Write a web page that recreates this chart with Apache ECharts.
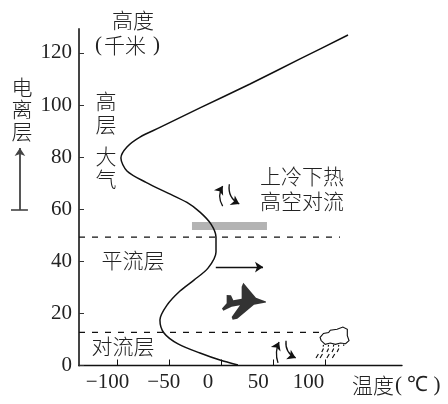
<!DOCTYPE html>
<html>
<head>
<meta charset="utf-8">
<style>
  html, body { margin: 0; padding: 0; background: #fff; }
  #chart { width: 448px; height: 404px; }
</style>
<script src="https://cdn.jsdelivr.net/npm/echarts@6/dist/echarts.min.js"></script>
</head>
<body>
<div id="chart"></div>
<script>
// temperature (x) / height (y) profile
const curveTemp = [122.1, 76, 27.9, -20.2, -58.7, -77.9, -90.4, -96.2, -90.4, -72.1, -51, -32.7, -20.2, -9.6, -4.8, -4.8, -12.5, -26, -39.4, -51.9, -58.7, -54.8, -41.3, -20.2, -1, 16.3];
const curveHeight = [126.9, 117.7, 108.1, 98.9, 91.4, 87.7, 83.9, 79.7, 74.7, 70.3, 66.2, 62.6, 58.9, 54.3, 49.3, 43.6, 37.4, 32.8, 28.6, 23.2, 17.5, 12.5, 8.3, 4.8, 2.1, 0.2];

const heightTicks = [0, 20, 40, 60, 80, 100, 120];
const tempTicks = [-100, -50, 0, 50, 100];

const stratopause = [[-136.5, 49.3], [114.4, 49.3]];
const tropopause = [[-136.5, 12.7], [95.2, 12.7]];
const ozoneBand = [[-27.9, 55.1], [44.2, 52]];

const planePos = [22.1, 24.7];
const cloudPos = [107.2, 8.8];

const PLANE = 'path://M198 95L168 84L152 65L130 38L125 50L125 87L100 91L93 76L80 75L80 100L66 116L70 123L95 111L120 106L95 142L98 150L112 147L162 105L198 98Z';
const CLOUD = 'path://M48 60L45 50L55 38L70 35L75 28L95 25L112 18L125 25L125 45L130 60L120 70L105 68L90 72L75 68L60 72ZM55 74L54 79M70 74L69 79M85 74L84 79M100 74L99 79M115 72L114 77M55 85L50 96M70 85L65 96M85 85L80 96M100 85L95 96M40 102L33 115M52 102L45 115M72 102L65 115M88 102L81 115';

const INK = '#222';
const SERIF = '"Liberation Serif", serif';
const CJK = '"Noto Sans CJK SC"';

const text = (str, x, y, opts = {}) => ({
  type: 'text',
  x,
  y,
  style: {
    text: str,
    fill: INK,
    font: `300 ${opts.size || 21}px ${CJK}`,
    textAlign: 'center',
    textVerticalAlign: 'middle',
    lineHeight: opts.lineHeight || 23,
  },
});

const chart = echarts.init(document.getElementById('chart'), null, { renderer: 'canvas' });

const arrowSeries = (coordsList, curveness, width, color) => ({
  type: 'lines',
  coordinateSystem: 'cartesian2d',
  polyline: false,
  clip: false,
  silent: true,
  symbol: ['none', 'arrow'],
  symbolSize: 8,
  lineStyle: { color, width, curveness, opacity: 1 },
  data: coordsList.map((coords) => ({ coords })),
});

chart.setOption({
  animation: false,
  backgroundColor: '#fff',
  grid: { left: 79, right: 46, top: 29, bottom: 38.5 },
  xAxis: [
    {
      type: 'value',
      min: -136.5,
      max: 174,
      splitLine: { show: false },
      axisLine: { show: true, onZero: false, lineStyle: { color: '#111', width: 1.4 } },
      axisTick: { show: true, inside: true, length: 6, lineStyle: { color: '#111', width: 1 }, customValues: tempTicks },
      axisLabel: { show: false },
    },
    {
      // the printed labels sit left of their ticks, so they get their own scale
      type: 'value',
      position: 'bottom',
      min: -128.4,
      max: 193,
      splitLine: { show: false },
      axisLine: { show: false, onZero: false },
      axisTick: { show: false },
      axisLabel: {
        customValues: tempTicks,
        margin: 6,
        color: INK,
        fontFamily: SERIF,
        fontSize: 21,
        formatter: (v) => (v === -50 ? '{shift|−50}' : String(v).replace('-', '−')),
        rich: { shift: { fontFamily: SERIF, fontSize: 21, color: INK, padding: [0, 0, 0, 12] } },
      },
    },
  ],
  yAxis: {
    type: 'value',
    min: 0,
    max: 129.2,
    splitLine: { show: false },
    axisLine: { show: true, onZero: false, lineStyle: { color: '#444', width: 2 } },
    axisTick: { show: true, inside: true, length: 5, lineStyle: { color: '#333', width: 1 }, customValues: heightTicks },
    axisLabel: { customValues: heightTicks, margin: 7, color: INK, fontFamily: SERIF, fontSize: 21 },
  },
  series: [
    {
      type: 'line',
      data: curveTemp.map((t, i) => [t, curveHeight[i]]),
      smooth: 0.3,
      symbol: 'none',
      z: 3,
      lineStyle: { color: '#111', width: 1.5 },
      markArea: {
        silent: true,
        itemStyle: { color: '#b3b3b3' },
        data: [[{ coord: ozoneBand[0] }, { coord: ozoneBand[1] }]],
      },
    },
    {
      type: 'line',
      data: stratopause,
      symbol: 'none',
      lineStyle: { color: '#111', width: 1.2, type: [6, 7] },
    },
    {
      type: 'line',
      data: tropopause,
      symbol: 'none',
      lineStyle: { color: '#111', width: 1.2, type: [6, 7] },
    },
    {
      type: 'scatter',
      data: [planePos],
      symbol: PLANE,
      symbolSize: [44, 37],
      silent: true,
      itemStyle: { color: '#000' },
    },
    {
      type: 'scatter',
      data: [cloudPos],
      symbol: CLOUD,
      symbolSize: [33, 31],
      silent: true,
      itemStyle: { color: '#fff', borderColor: '#111', borderWidth: 1.1, opacity: 1 },
    },
    // straight arrow in the stratosphere
    arrowSeries([[[-5, 37.8], [40.4, 37.8]]], 0, 1.3, '#111'),
    // upper convection arrows
    arrowSeries([[[1.6, 61.2], [1.6, 68.9]]], 0.3, 1.3, '#111'),
    arrowSeries([[[8, 69.6], [17.6, 62]]], -0.35, 1.3, '#111'),
    // lower convection arrows
    arrowSeries([[[54.8, 1], [55.8, 9]]], 0.2, 1.3, '#111'),
    arrowSeries([[[62.5, 9.5], [71.8, 2.9]]], -0.35, 1.3, '#111'),
    // ionosphere arrow on the left, with its foot
    arrowSeries([[[-193.3, 59.7], [-193.3, 83.5]]], 0, 1.8, '#444'),
    {
      type: 'lines',
      coordinateSystem: 'cartesian2d',
      clip: false,
      silent: true,
      lineStyle: { color: '#444', width: 1.6, opacity: 1 },
      data: [{ coords: [[-201.9, 59.7], [-185.6, 59.7]] }],
    },
  ],
  graphic: [
    text('高度', 133, 20),
    text('千米', 125, 45),
    { type: 'text', x: 95, y: 45, style: { text: '(', fill: INK, font: `21px ${SERIF}`, textVerticalAlign: 'middle' } },
    { type: 'text', x: 153, y: 45, style: { text: ')', fill: INK, font: `21px ${SERIF}`, textVerticalAlign: 'middle' } },
    text('电\n离\n层', 22, 109, { lineHeight: 22 }),
    text('高\n层', 106, 113),
    text('大\n气', 106, 168),
    text('上冷下热', 302, 176),
    text('高空对流', 302, 201.5),
    text('平流层', 133, 260),
    text('对流层', 123, 346.5),
    text('温度', 373, 385),
    { type: 'text', x: 395, y: 385, style: { text: '( ℃ )', fill: INK, font: `21px ${SERIF}`, textVerticalAlign: 'middle' } },
  ],
});
</script>
</body>
</html>
